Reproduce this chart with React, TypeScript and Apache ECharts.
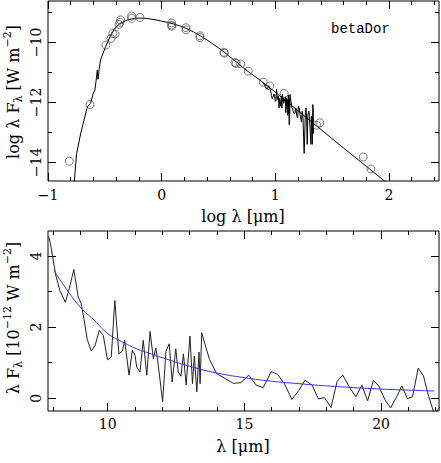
import React, { useEffect, useRef } from "react";
import * as echarts from "echarts";

// ---------- Top panel: SED (log lambda [um], log lambda F_lambda [W m^-2]) ----------
const modelLogLam = [-0.775, -0.769, -0.748, -0.712, -0.654, -0.625, -0.602, -0.587, -0.578, -0.566, -0.56, -0.549, -0.537, -0.499, -0.455, -0.411, -0.367, -0.32, -0.28, -0.23, -0.19, -0.14, -0.1, -0.05, 0.0, 0.05, 0.1, 0.16, 0.22, 0.28, 0.34, 0.4, 0.45, 0.5, 0.55, 0.6, 0.66, 0.71, 0.76, 0.83, 0.9, 1.0, 1.2, 1.4, 1.6, 1.8, 2.0];
const modelLogFlux = [-14.9, -14.63, -13.7, -13.03, -12.15, -12.03, -11.7, -11.59, -11.31, -10.92, -11.23, -10.87, -10.57, -10.2, -9.81, -9.53, -9.37, -9.28, -9.23, -9.2, -9.19, -9.2, -9.22, -9.25, -9.29, -9.33, -9.38, -9.45, -9.54, -9.65, -9.78, -9.92, -10.05, -10.18, -10.32, -10.48, -10.66, -10.82, -10.97, -11.16, -11.36, -11.66, -12.28, -12.9, -13.52, -14.13, -14.74];

const photLogLam = [-0.813, -0.631, -0.49, -0.446, -0.431, -0.41, -0.376, -0.361, -0.366, -0.264, -0.264, -0.191, 0.088, 0.088, 0.09, 0.214, 0.214, 0.337, 0.337, 0.548, 0.551, 0.645, 0.655, 0.695, 0.762, 0.894, 0.952, 1.078, 1.363, 1.392, 1.773, 1.841];
const photLogFlux = [-13.96, -12.07, -10.09, -9.87, -9.7, -9.72, -9.4, -9.25, -9.33, -9.12, -9.2, -9.17, -9.35, -9.42, -9.46, -9.51, -9.58, -9.78, -9.84, -10.33, -10.36, -10.67, -10.7, -10.72, -10.96, -11.33, -11.45, -11.7, -12.76, -12.68, -13.82, -14.22];

// ---------- Bottom panel: spectrum (lambda [um], lambda F_lambda [1e-12 W m^-2]) ----------
const specLam = [7.84, 7.9, 8.1, 8.25, 8.45, 8.6, 8.76, 8.92, 9.03, 9.13, 9.25, 9.4, 9.54, 9.69, 9.84, 9.99, 10.13, 10.26, 10.41, 10.54, 10.62, 10.78, 10.9, 11.0, 11.06, 11.18, 11.3, 11.43, 11.55, 11.67, 11.76, 11.85, 12.01, 12.13, 12.25, 12.36, 12.49, 12.58, 12.68, 12.77, 12.87, 13.01, 13.1, 13.17, 13.26, 13.34, 13.38, 13.44, 13.72, 13.99, 14.6, 14.87, 15.16, 15.43, 15.69, 15.98, 16.22, 16.47, 16.74, 16.99, 17.22, 17.48, 17.71, 17.93, 18.17, 18.39, 18.6, 18.87, 19.08, 19.3, 19.51, 19.72, 19.91, 20.15, 20.35, 20.57, 20.76, 20.96, 21.15, 21.36, 21.55, 21.73, 21.95, 22.2];
const specFlux = [4.55, 4.38, 3.46, 3.03, 2.7, 3.1, 3.62, 2.85, 2.66, 2.24, 1.66, 1.33, 1.49, 1.91, 1.77, 1.08, 1.16, 2.75, 1.25, 1.33, 1.63, 0.65, 1.35, 1.21, 0.88, 0.74, 1.63, 0.65, 1.88, 1.11, 1.41, 0.93, -0.1, 1.32, 1.53, 0.46, 1.39, 0.74, 0.62, 1.25, 0.37, 1.75, 0.41, 1.19, 0.18, 1.3, 0.41, 1.84, 1.1, 0.69, 0.42, 0.44, 0.65, 0.37, 0.3, 0.75, 0.67, 0.4, -0.03, 0.22, 0.51, 0.37, -0.02, 0.02, -0.26, 0.47, 0.65, 0.28, 0.04, 0.37, -0.07, 0.51, 0.35, -0.05, -0.27, 0.04, 0.35, -0.01, 0.04, 0.85, 0.63, 0.09, -0.45, -0.2];

const fitLam = [8.03, 8.5, 9, 9.5, 10, 10.5, 11, 11.5, 12, 13, 14, 15, 16, 17, 18, 19, 20, 21, 21.95];
const fitFlux = [3.6, 3.06, 2.56, 2.2, 1.82, 1.6, 1.41, 1.27, 1.14, 0.9, 0.71, 0.58, 0.48, 0.41, 0.35, 0.3, 0.26, 0.23, 0.205];

// ---------- Ticks / labels ----------
const topXMajor = [-1, 0, 1, 2];
const topXMinor = [-0.8, -0.6, -0.4, -0.2, 0.2, 0.4, 0.6, 0.8, 1.2, 1.4, 1.6, 1.8, 2.2, 2.4];
const topYMajor = [-14, -12, -10];
const topYMinor = [-13, -11, -9];
const botXMajor = [10, 15, 20];
const botXMinor = [8, 9, 11, 12, 13, 14, 16, 17, 18, 19, 21, 22];
const botYMajor = [0, 2, 4];
const botYMinor = [1, 3];

const SERIF = '"DejaVu Serif", serif';

const fmt = (v: number) => (v < 0 ? "\u2212" + Math.abs(v) : String(v));

function mkAxis(gridIndex: number, position: string, min: number, max: number, ticks: number[], len: number, labels?: number[], labelExtra?: any) {
  return {
    type: "value",
    gridIndex,
    position,
    min,
    max,
    axisLine: { show: false, onZero: false },
    splitLine: { show: false },
    axisTick: { show: true, inside: true, length: len, customValues: ticks, lineStyle: { color: "#000", width: 1 } },
    axisLabel: labels
      ? { show: true, customValues: labels, formatter: fmt, color: "#000", fontFamily: SERIF, fontSize: 14, ...labelExtra }
      : { show: false },
  };
}

export default function App() {
  const ref = useRef<HTMLDivElement>(null);
  useEffect(() => {
    if (!ref.current) return;
    const chart = echarts.init(ref.current, null, { renderer: "svg" });

    const TX = [-1, 2.44];
    const TY = [-14.62, -8.62];
    const BX = [7.816, 22.12];
    const BY = [-0.357, 4.703];

    const g0 = { left: 48, top: 1, width: 391, height: 180 };
    const g1 = { left: 48, top: 231, width: 391, height: 180 };

    const noise: number[][] = [];
    for (let i = 0; i < specLam.length; i++) {
      if (specFlux[i] > 0) noise.push([Math.log10(specLam[i]), Math.log10(specFlux[i]) - 12]);
    }

    const option: any = {
      animation: false,
      backgroundColor: "#fff",
      grid: [
        { ...g0, show: true, borderColor: "#000", borderWidth: 1, backgroundColor: "transparent" },
        { ...g0, show: false },
        { ...g1, show: true, borderColor: "#000", borderWidth: 1, backgroundColor: "transparent" },
        { ...g1, show: false },
      ],
      xAxis: [
        mkAxis(0, "bottom", TX[0], TX[1], topXMajor, 8, topXMajor, { margin: 7 }),
        mkAxis(0, "top", TX[0], TX[1], topXMajor, 8),
        mkAxis(1, "bottom", TX[0], TX[1], topXMinor, 4),
        mkAxis(1, "top", TX[0], TX[1], topXMinor, 4),
        mkAxis(2, "bottom", BX[0], BX[1], botXMajor, 8, botXMajor, { margin: 6 }),
        mkAxis(2, "top", BX[0], BX[1], botXMajor, 8),
        mkAxis(3, "bottom", BX[0], BX[1], botXMinor, 4),
        mkAxis(3, "top", BX[0], BX[1], botXMinor, 4),
      ],
      yAxis: [
        mkAxis(0, "left", TY[0], TY[1], topYMajor, 8, topYMajor, { rotate: 90, margin: 5 }),
        mkAxis(0, "right", TY[0], TY[1], topYMajor, 8),
        mkAxis(1, "left", TY[0], TY[1], topYMinor, 4),
        mkAxis(1, "right", TY[0], TY[1], topYMinor, 4),
        mkAxis(2, "left", BY[0], BY[1], botYMajor, 8, botYMajor, { rotate: 90, margin: 5 }),
        mkAxis(2, "right", BY[0], BY[1], botYMajor, 8),
        mkAxis(3, "left", BY[0], BY[1], botYMinor, 4),
        mkAxis(3, "right", BY[0], BY[1], botYMinor, 4),
      ],
      series: [
        {
          type: "line",
          xAxisIndex: 0,
          yAxisIndex: 0,
          data: modelLogLam.map((x, i) => [x, modelLogFlux[i]]),
          showSymbol: false,
          lineStyle: { color: "#000", width: 1 },
          clip: true,
          z: 3,
        },
        {
          type: "line",
          xAxisIndex: 0,
          yAxisIndex: 0,
          data: noise,
          showSymbol: false,
          lineStyle: { color: "#000", width: 1 },
          clip: true,
          z: 3,
        },
        {
          type: "scatter",
          xAxisIndex: 0,
          yAxisIndex: 0,
          data: photLogLam.map((x, i) => [x, photLogFlux[i]]),
          symbol: "circle",
          symbolSize: 8,
          itemStyle: { color: "rgba(0,0,0,0)", borderColor: "#444", borderWidth: 0.9 },
          z: 4,
        },
        {
          type: "line",
          xAxisIndex: 4,
          yAxisIndex: 4,
          data: specLam.map((x, i) => [x, specFlux[i]]),
          showSymbol: false,
          lineStyle: { color: "#222", width: 1 },
          clip: true,
          z: 3,
        },
        {
          type: "line",
          xAxisIndex: 4,
          yAxisIndex: 4,
          data: fitLam.map((x, i) => [x, fitFlux[i]]),
          showSymbol: false,
          smooth: true,
          lineStyle: { color: "#3333ff", width: 1 },
          clip: true,
          z: 4,
        },
      ],
      graphic: [
        {
          type: "text",
          x: 243,
          y: 216,
          style: { text: "log \u03bb [\u03bcm]", fontFamily: SERIF, fontSize: 16, fill: "#000", align: "center", verticalAlign: "middle" },
        },
        {
          type: "text",
          x: 243,
          y: 446,
          style: { text: "\u03bb [\u03bcm]", fontFamily: SERIF, fontSize: 16, fill: "#000", align: "center", verticalAlign: "middle" },
        },
        {
          type: "text",
          x: 13,
          y: 92,
          rotation: Math.PI / 2,
          style: {
            text: "log \u03bb F{sub|\u03bb} [W m{sup|\u22122}]",
            fontFamily: SERIF,
            fontSize: 16,
            lineHeight: 22,
            fill: "#000",
            align: "center",
            verticalAlign: "middle",
            rich: {
              sub: { fontFamily: SERIF, fontSize: 11, lineHeight: 11, verticalAlign: "bottom", fill: "#000" },
              sup: { fontFamily: SERIF, fontSize: 11, lineHeight: 11, verticalAlign: "top", fill: "#000" },
            },
          },
        },
        {
          type: "text",
          x: 13,
          y: 318,
          rotation: Math.PI / 2,
          style: {
            text: "\u03bb F{sub|\u03bb} [10{sup|\u221212} W m{sup|\u22122}]",
            fontFamily: SERIF,
            fontSize: 16,
            lineHeight: 22,
            fill: "#000",
            align: "center",
            verticalAlign: "middle",
            rich: {
              sub: { fontFamily: SERIF, fontSize: 11, lineHeight: 11, verticalAlign: "bottom", fill: "#000" },
              sup: { fontFamily: SERIF, fontSize: 11, lineHeight: 11, verticalAlign: "top", fill: "#000" },
            },
          },
        },
        {
          type: "text",
          x: 331,
          y: 29,
          style: { text: "betaDor", fontFamily: '"Liberation Mono", monospace', fontSize: 14, fill: "#000", align: "left", verticalAlign: "middle" },
        },
      ],
    };

    chart.setOption(option);
    return () => chart.dispose();
  }, []);

  return <div ref={ref} style={{ position: "fixed", left: 0, top: 0, width: 441, height: 463, background: "#fff" }} />;
}
